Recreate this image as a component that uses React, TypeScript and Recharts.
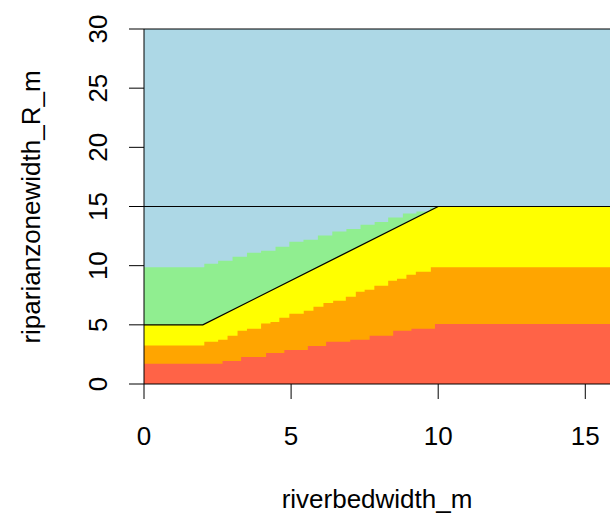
import { ComposedChart, Area, Line, XAxis, YAxis, CartesianGrid, ReferenceLine } from 'recharts';

// step boundaries (x in m, top of each zone in m)
const redTop = [
  { x: 0, y: 1.72 }, { x: 2.67, y: 1.95 }, { x: 3.3, y: 2.29 }, { x: 4.15, y: 2.63 },
  { x: 4.77, y: 2.88 }, { x: 5.57, y: 3.22 }, { x: 6.19, y: 3.56 }, { x: 7.01, y: 3.73 },
  { x: 7.67, y: 4.07 }, { x: 8.47, y: 4.49 }, { x: 9.09, y: 4.66 }, { x: 9.89, y: 5.08 },
  { x: 15.84, y: 5.08 },
];

const orangeTop = [
  { x: 0, y: 3.25 }, { x: 2.05, y: 3.56 }, { x: 2.52, y: 3.73 }, { x: 2.84, y: 4.07 },
  { x: 3.18, y: 4.49 }, { x: 3.5, y: 4.66 }, { x: 3.98, y: 5.11 }, { x: 4.3, y: 5.25 },
  { x: 4.6, y: 5.59 }, { x: 4.94, y: 5.93 }, { x: 5.43, y: 6.19 }, { x: 5.76, y: 6.53 },
  { x: 6.1, y: 6.84 }, { x: 6.43, y: 7.03 }, { x: 6.86, y: 7.37 }, { x: 7.2, y: 7.8 },
  { x: 7.5, y: 7.97 }, { x: 7.83, y: 8.3 }, { x: 8.3, y: 8.73 }, { x: 8.6, y: 8.9 },
  { x: 8.92, y: 9.24 }, { x: 9.24, y: 9.49 }, { x: 9.75, y: 9.86 }, { x: 15.84, y: 9.86 },
];

const yellowTop = [
  { x: 0, y: 5 }, { x: 2, y: 5 }, { x: 10, y: 15 }, { x: 15.84, y: 15 },
];

const limitLine = [
  { x: 0, y: 5 }, { x: 2, y: 5 }, { x: 10, y: 15 },
];

const greenTop = [
  { x: 0, y: 9.86 }, { x: 2.05, y: 10.17 }, { x: 2.52, y: 10.42 }, { x: 3.01, y: 10.76 },
  { x: 3.5, y: 11.1 }, { x: 3.98, y: 11.27 }, { x: 4.47, y: 11.6 }, { x: 4.94, y: 12.03 },
  { x: 5.42, y: 12.2 }, { x: 5.91, y: 12.54 }, { x: 6.4, y: 12.88 }, { x: 6.88, y: 13.1 },
  { x: 7.36, y: 13.45 }, { x: 7.84, y: 13.7 }, { x: 8.3, y: 14.07 }, { x: 8.8, y: 14.4 },
  { x: 9.26, y: 14.58 }, { x: 9.72, y: 14.9 }, { x: 9.9, y: 15 }, { x: 15.84, y: 15 },
];

const xTicks = [0, 5, 10, 15];
const yTicks = [0, 5, 10, 15, 20, 25, 30];

const font = 'Liberation Sans, Arial, Helvetica, sans-serif';

const XTick = (props: any) => (
  <text x={props.x} y={445} textAnchor="middle" fontSize={26} fontFamily={font} fill="#000">
    {props.payload.value}
  </text>
);

const YTick = (props: any) => (
  <text
    transform={`translate(107, ${props.y}) rotate(-90)`}
    textAnchor="middle"
    fontSize={26}
    fontFamily={font}
    fill="#000"
  >
    {props.payload.value}
  </text>
);

const App = () => {
  return (
    <div>
      <style>{'body { margin: 0; }'}</style>
      <ComposedChart width={610} height={513} margin={{ top: 29, right: 0, bottom: 69, left: 84 }}>
        <CartesianGrid horizontal={false} vertical={false} fill="#ADD8E6" stroke="none" />
        <XAxis
          type="number"
          dataKey="x"
          domain={[0, 15.84]}
          allowDataOverflow
          ticks={xTicks}
          height={60}
          axisLine={false}
          tickSize={15}
          tickLine={{ stroke: '#000' }}
          tick={<XTick />}
          label={{
            content: () => (
              <text x={377} y={508} textAnchor="middle" fontSize={26} fontFamily={font} fill="#000">
                riverbedwidth_m
              </text>
            ),
          }}
        />
        <YAxis
          type="number"
          domain={[0, 30]}
          allowDataOverflow
          ticks={yTicks}
          width={60}
          axisLine={false}
          tickSize={15}
          tickLine={{ stroke: '#000' }}
          tick={<YTick />}
          label={{
            content: () => (
              <text
                transform="translate(40, 207) rotate(-90)"
                textAnchor="middle"
                fontSize={26}
                fontFamily={font}
                fill="#000"
              >
                riparianzonewidth_R_m
              </text>
            ),
          }}
        />
        <Area data={greenTop} dataKey="y" type="stepAfter" fill="#90EE90" fillOpacity={1} stroke="none" isAnimationActive={false} />
        <Area data={yellowTop} dataKey="y" type="linear" fill="#FFFF00" fillOpacity={1} stroke="none" isAnimationActive={false} />
        <Area data={orangeTop} dataKey="y" type="stepAfter" fill="#FFA500" fillOpacity={1} stroke="none" isAnimationActive={false} />
        <Area data={redTop} dataKey="y" type="stepAfter" fill="#FF6347" fillOpacity={1} stroke="none" isAnimationActive={false} />
        <Line data={limitLine} dataKey="y" type="linear" stroke="#000" strokeWidth={1.3} dot={false} isAnimationActive={false} />
        <ReferenceLine y={15} stroke="#000" strokeWidth={1} />
        <ReferenceLine y={30} stroke="#000" strokeWidth={1} />
        <ReferenceLine y={0} stroke="#000" strokeWidth={1} />
        <ReferenceLine x={0} stroke="#000" strokeWidth={1} />
      </ComposedChart>
    </div>
  );
};

export default App;
